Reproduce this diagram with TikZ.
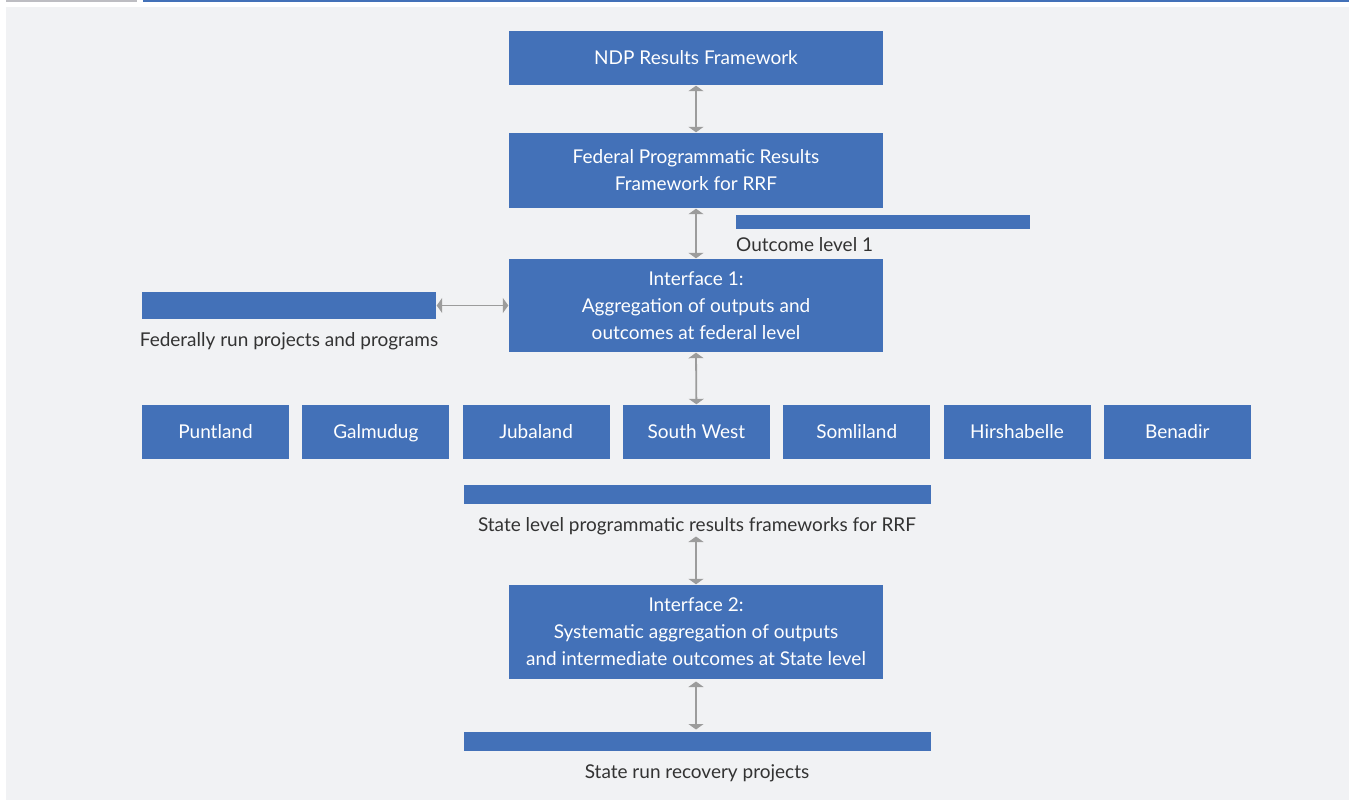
\documentclass[tikz,border=0pt]{standalone}
\usepackage{fontspec}
\setmainfont{Lato}
\usetikzlibrary{arrows.meta}
\definecolor{boxblue}{HTML}{4371B8}
\definecolor{bggray}{HTML}{F1F2F4}
\definecolor{arrgray}{HTML}{9C9C9C}
\definecolor{txtgray}{HTML}{333333}
\definecolor{topgray}{HTML}{BDBDC2}
\begin{document}
\begin{tikzpicture}[x=1pt,y=-1pt,
  bluebox/.style={fill=boxblue,draw=none,text=white,align=center,font=\fontsize{19}{27}\selectfont,inner sep=0pt},
  statebox/.style={bluebox,minimum width=147pt,minimum height=54pt,text height=15pt,text depth=2pt},
  bar/.style={fill=boxblue,draw=none,inner sep=0pt},
  lbl/.style={text=txtgray,font=\fontsize{19}{22}\selectfont,inner sep=0pt},
  link/.style={draw=arrgray,line width=1.8pt,{Triangle[width=15pt,length=5.5pt]}-{Triangle[width=15pt,length=5.5pt]},shorten <=0.5pt,shorten >=0.5pt}]
\useasboundingbox (0,0) rectangle (1349,800);
\fill[white] (0,0) rectangle (1349,800);
\fill[bggray] (6,7) rectangle (1349,800);
\fill[topgray] (6,0) rectangle (137,2.5);
\fill[boxblue] (143,0) rectangle (1349,2.5);
% main boxes
\node[bluebox,minimum width=374pt,minimum height=54pt] (ndp) at (696,58) {NDP Results Framework};
\node[bluebox,minimum width=374pt,minimum height=75pt] (fed) at (696,170.5) {Federal Programmatic Results\\Framework for RRF};
\node[bar,minimum width=294pt,minimum height=14pt] (obar) at (883,222) {};
\node[lbl,anchor=west] (olbl) at (736,245) {Outcome level 1};
\node[bluebox,minimum width=374pt,minimum height=93pt] (if1) at (696,305.5) {Interface 1:\\Aggregation of outputs and\\outcomes at federal level};
\node[bar,minimum width=294pt,minimum height=27pt] (fbar) at (289,305.5) {};
\node[lbl] (flbl) at (289,341) {Federally run projects and programs};
% states
\foreach \n/\t [count=\i from 0] in {pu/Puntland,ga/Galmudug,ju/Jubaland,sw/South West,so/Somliland,hi/Hirshabelle,be/Benadir}{
  \node[statebox] (\n) at ({215.5+160.3*\i},432) {\t};
}
\node[bar,minimum width=467pt,minimum height=19pt] (sbar) at (697.5,494.5) {};
\node[lbl] (slbl) at (697,526) {State level programmatic results frameworks for RRF};
\node[bluebox,minimum width=374pt,minimum height=94pt] (if2) at (696,632) {Interface 2:\\Systematic aggregation of outputs\\and intermediate outcomes at State level};
\node[bar,minimum width=467pt,minimum height=19pt] (bbar) at (697.5,741.5) {};
\node[lbl] (blbl) at (697,773) {State run recovery projects};
% connectors
\coordinate (sa) at (696,536);
\coordinate (ib) at (696,681);
\coordinate (ib2) at (696,730);
\draw[link] (ndp.south) -- (fed.north);
\draw[link] (fed.south) -- (if1.north);
\draw[link] (fbar.east) -- (if1.west|-fbar.east);
\draw[link] (if1.south) -- (sw.north);
\draw[link] (sa) -- (if2.north);
\draw[link] (ib) -- (ib2);
\end{tikzpicture}
\end{document}
